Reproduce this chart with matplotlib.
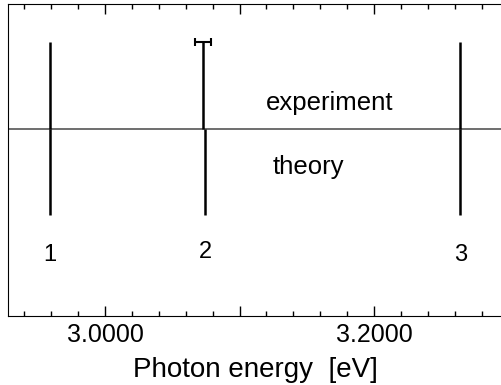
import matplotlib
matplotlib.use('Agg')
import matplotlib.pyplot as plt
from matplotlib.ticker import MultipleLocator, FuncFormatter

plt.rcParams['font.family'] = ['Liberation Sans', 'DejaVu Sans']

# peak positions (eV)
peak_labels = ['1', '2', '3']
exp_energy = [2.959, 3.0729, 3.2640]
theory_energy = [2.959, 3.0744, 3.2640]
exp_err = [0.0, 0.006, 0.0]
label_y = [-1.46, -1.42, -1.46]

fig = plt.figure(figsize=(5.02, 3.85), dpi=100)
ax = fig.add_axes([0.016, 0.179, 0.984, 0.811])

# baseline
ax.axhline(0, color='#555555', lw=1.2, zorder=1)

# experiment sticks (upward) and theory sticks (downward)
ax.vlines(exp_energy, 0, 1, color='black', lw=1.8, zorder=2)
ax.vlines(theory_energy, -1, 0, color='black', lw=1.8, zorder=2)
for e, err in zip(exp_energy, exp_err):
    if err > 0:
        ax.errorbar([e], [1], xerr=[err], fmt='none', ecolor='black',
                    elinewidth=1.5, capsize=3, capthick=1.5)

for lab, e, y in zip(peak_labels, theory_energy, label_y):
    ax.text(e, y, lab, ha='center', va='center', fontsize=17)

ax.text(3.1673, 0.30, 'experiment', ha='center', va='center', fontsize=18.5)
ax.text(3.151, -0.44, 'theory', ha='center', va='center', fontsize=18.5)

ax.set_xlim(2.928, 3.295)
ax.set_ylim(-2.16, 1.44)

ax.xaxis.set_major_locator(MultipleLocator(0.1))
ax.xaxis.set_minor_locator(MultipleLocator(0.02))
ax.xaxis.set_major_formatter(FuncFormatter(
    lambda v, p: '%.4f' % v if abs(round(v * 10) % 2) == 0 else ''))
ax.tick_params(axis='x', which='both', direction='in', top=True,
               labelsize=18, pad=5)
ax.tick_params(axis='x', which='major', length=7, width=1)
ax.tick_params(axis='x', which='minor', length=3.5, width=1)
ax.set_yticks([])
ax.spines['right'].set_visible(False)
ax.set_xlabel('Photon energy  [eV]', fontsize=20, labelpad=7)

plt.savefig('out.png', dpi=100)
